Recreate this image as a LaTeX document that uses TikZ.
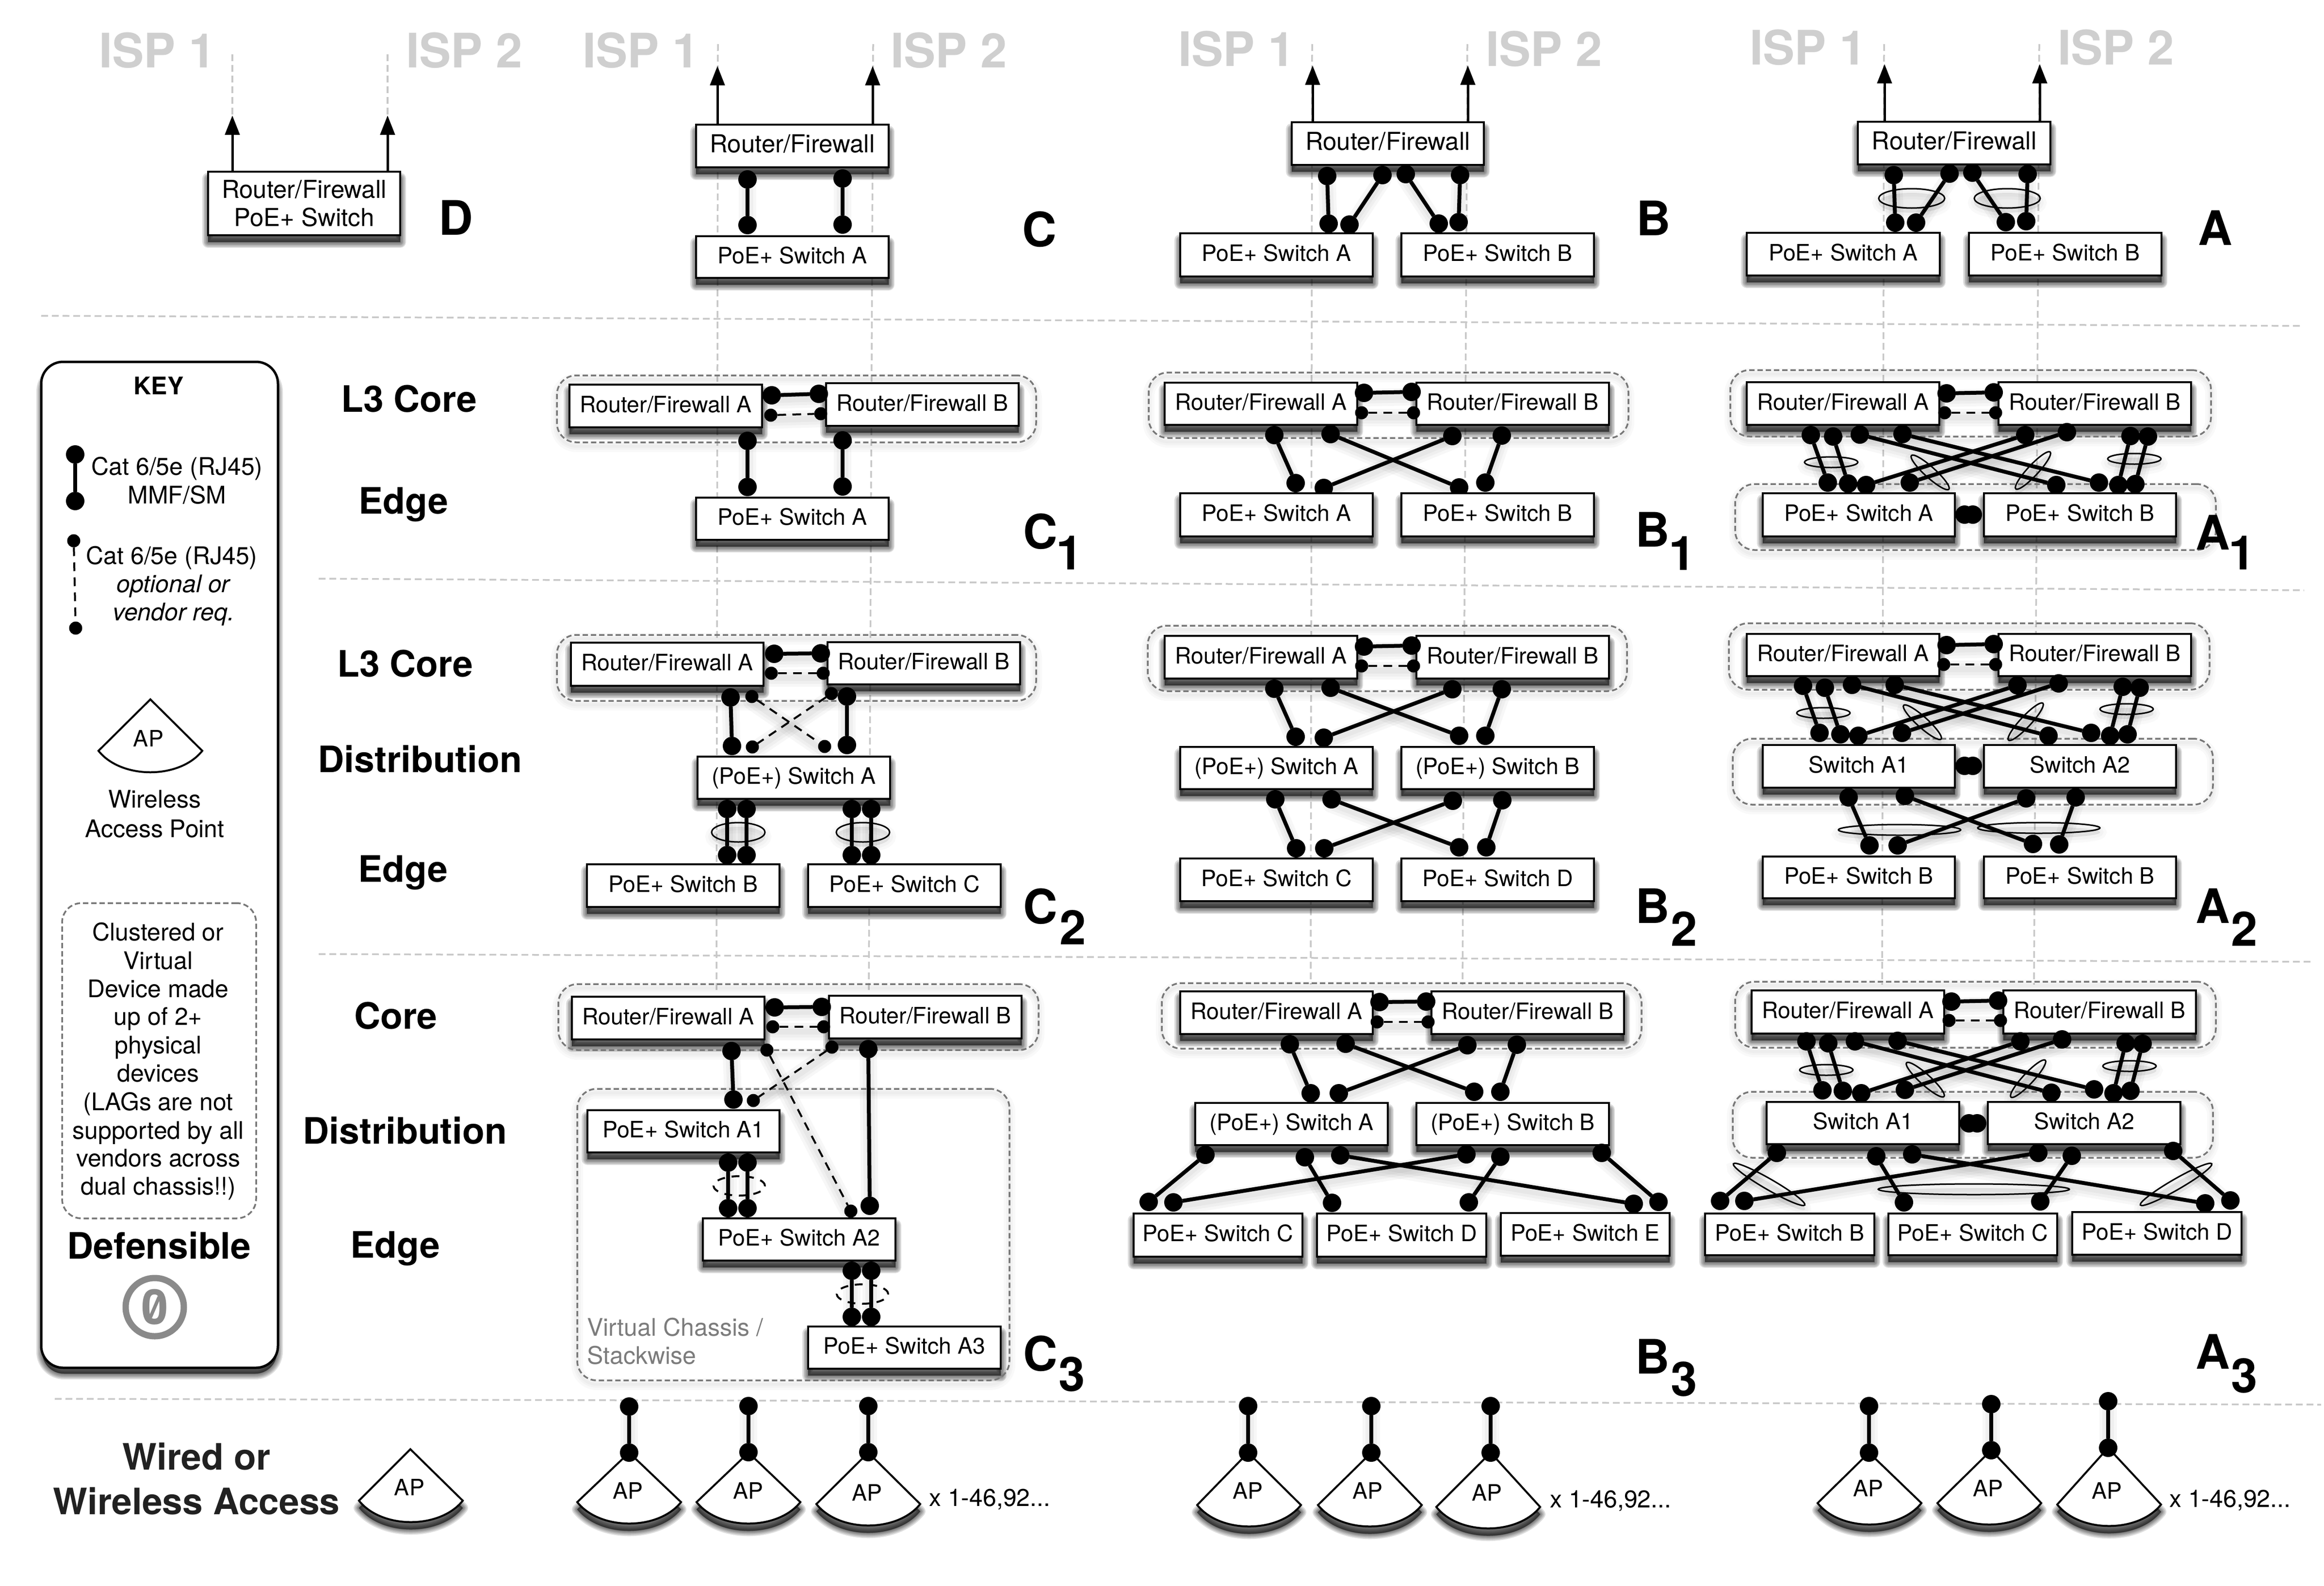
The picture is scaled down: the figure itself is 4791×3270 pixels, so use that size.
\documentclass[tikz,border=0pt]{standalone}
\usepackage{fontspec}
\setmainfont{TeX Gyre Heros}
\usetikzlibrary{shapes.geometric,arrows.meta,calc}
\pgfdeclarelayer{bg}\pgfdeclarelayer{shadow}\pgfdeclarelayer{mid}
\pgfsetlayers{bg,shadow,mid,main}
\definecolor{guidegrey}{HTML}{C8C8C8}
\definecolor{grpgrey}{HTML}{777777}
\definecolor{ispgrey}{HTML}{CFCFCF}
\definecolor{vcgrey}{HTML}{7C7C7C}
\definecolor{ccgrey}{HTML}{8A8A8A}
\newcommand\fnorm{\fontsize{46.5}{58.4}\selectfont}
\newcommand\fkey{\fontsize{50}{58.4}\selectfont}
\newcommand\ftop{\fontsize{51}{58.4}\selectfont}
\newcommand\fhead{\fontsize{75}{90}\selectfont\bfseries}
\newcommand\fbig{\fontsize{98}{110}\selectfont\bfseries}
\tikzset{
  guide/.style={draw=guidegrey,line width=3.5pt,dash pattern=on 14pt off 8pt},
  devbox/.style={draw=black,fill=white,line width=4pt,inner sep=0pt,outer sep=0pt,font=\fnorm,text height=26pt,text depth=0pt},
  devtwo/.style={draw=black,fill=white,line width=4pt,inner sep=0pt,outer sep=0pt,font=\ftop,align=center},
  softlayer/.style={draw=black,fill=black,opacity=.13,line join=round},
  grpbox/.style={draw=grpgrey,line width=3.5pt,dash pattern=on 11pt off 6pt,rounded corners=40pt,inner sep=0pt},
  bigdot/.style={circle,fill=black,inner sep=0pt,minimum size=38pt,outer sep=0pt},
  smalldot/.style={circle,fill=black,inner sep=0pt,minimum size=27pt,outer sep=0pt},
  solidlink/.style={draw=black,line width=8pt},
  dashlink/.style={draw=black,line width=4pt,dash pattern=on 18pt off 13pt},
  uplink/.style={draw=black,line width=5pt,-{Triangle[width=30pt,length=40pt]}},
  apline/.style={draw=black,fill=white,line width=4pt,line join=miter},
  lagring/.style={ellipse,draw=black,line width=3pt,inner sep=0pt,outer sep=0pt},
  lagdash/.style={ellipse,draw=black,line width=4pt,inner sep=0pt,outer sep=0pt,dash pattern=on 16pt off 14pt},
  normal/.style={font=\fnorm,inner sep=0pt,anchor=base},
  keytext/.style={font=\fkey,inner sep=0pt,anchor=base},
  heading/.style={font=\fhead,inner sep=0pt,anchor=base},
  biglabel/.style={font=\fbig,inner sep=0pt,anchor=base},
  isp/.style={font=\fbig,inner sep=0pt,anchor=base,text=ispgrey},
}
\newcount\objc
\newcommand\txt[5]{\node[#4] (#1) at (#2,#3) {#5};}
\newcommand\softrect[4]{\begin{pgfonlayer}{shadow}\foreach\w in {24,19,14,9,4,1}{\filldraw[softlayer,line width=\w pt,shift={(0,14)}] (#1+2,#2+2) rectangle (#3-2,#4-2);}\end{pgfonlayer}}
\newcommand\dev[6]{\softrect{#2}{#3}{#4}{#5}\node[devbox,minimum width={#4-#2-4},minimum height={#5-#3-4}] (#1) at ({(#2+#4)/2},{(#3+#5)/2}) {#6};}
\newcommand\devtop[6]{\softrect{#2}{#3}{#4}{#5}\node[devbox,font=\ftop,minimum width={#4-#2-4},minimum height={#5-#3-4}] (#1) at ({(#2+#4)/2},{(#3+#5)/2}) {#6};}
\newcommand\grp[5]{%
  \begin{pgfonlayer}{shadow}\foreach\w in {24,14,6}{\draw[black,opacity=.025,line width=\w pt,rounded corners=40pt,shift={(0,8)}] (#2,#3) rectangle (#4,#5);}\end{pgfonlayer}%
  \begin{pgfonlayer}{mid}\node[grpbox,minimum width={#4-#2},minimum height={#5-#3}] (#1) at ({(#2+#4)/2},{(#3+#5)/2}) {};\end{pgfonlayer}}
\newcommand\softline[4]{\begin{pgfonlayer}{shadow}\foreach\w in {36,24,12}{\draw[black,opacity=.03,line width=\w pt,line cap=round,shift={(0,10)}] (#1,#2) -- (#3,#4);}\end{pgfonlayer}}
\newcommand\wire[4]{\global\advance\objc by 1 \edef\wa{w\the\objc a}\edef\wb{w\the\objc b}%
  \softline{#1}{#2}{#3}{#4}%
  \node[bigdot] (\wa) at (#1,#2) {};\node[bigdot] (\wb) at (#3,#4) {};\draw[solidlink] (\wa) -- (\wb);}
\newcommand\optw[4]{\global\advance\objc by 1 \edef\wa{o\the\objc a}\edef\wb{o\the\objc b}%
  \softline{#1}{#2}{#3}{#4}%
  \node[smalldot] (\wa) at (#1,#2) {};\node[smalldot] (\wb) at (#3,#4) {};\draw[dashlink] (\wa) -- (\wb);}
\newcommand\lag[5]{\global\advance\objc by 1 \edef\wa{l\the\objc}%
  \begin{pgfonlayer}{shadow}\foreach\w in {26,14,2}{\node[ellipse,draw=black,fill=black,opacity=.022,line width=\w pt,rotate=#5,inner sep=0pt,minimum width={2*#3},minimum height={2*#4}] at (#1,#2+9) {};}\end{pgfonlayer}%
  \node[lagring,rotate=#5,minimum width={2*#3},minimum height={2*#4}] (\wa) at (#1,#2) {};}
\newcommand\lagd[4]{\global\advance\objc by 1 \edef\wa{l\the\objc}%
  \node[lagdash,minimum width={2*#3},minimum height={2*#4}] (\wa) at (#1,#2) {};}
\newcommand\apoutline[4]{(#1,#2) -- (#3+107,#4) .. controls (#3+60,#4+59) and (#3-60,#4+59) .. (#3-107,#4) -- cycle}
\newcommand\apsym[7]{\draw[apline] \apoutline{#2}{#3}{#4}{#5};\node[normal] (#1) at (#6,#7) {AP};}
\newcommand\apbox[7]{%
  \begin{pgfonlayer}{shadow}\foreach\w in {22,17,12,8,4,1}{\filldraw[softlayer,line width=\w pt,shift={(0,15)}] \apoutline{#2}{#3}{#4}{#5};}\end{pgfonlayer}%
  \apsym{#1}{#2}{#3}{#4}{#5}{#6}{#7}}
\begin{document}
\begin{tikzpicture}[x=1pt,y=-1pt]
\useasboundingbox (0,0) rectangle (4791,3270);
% ---------- guides
\begin{pgfonlayer}{bg}
\fill[white] (0,0) rectangle (4791,3270);
\coordinate (s1a) at (85,651);\coordinate (s1b) at (4743,672);
\coordinate (s2a) at (657,1193);\coordinate (s2b) at (4750,1217);
\coordinate (s3a) at (657,1967);\coordinate (s3b) at (4770,1983);
\coordinate (s4a) at (113,2884);\coordinate (s4b) at (4785,2896);
\draw[guide] (s1a) -- (s1b);\draw[guide] (s2a) -- (s2b);\draw[guide] (s3a) -- (s3b);\draw[guide] (s4a) -- (s4b);
\coordinate (gd1t) at (479,112);\coordinate (gd1b) at (479,238);
\coordinate (gd2t) at (799,112);\coordinate (gd2b) at (799,238);
\coordinate (gc1t) at (1480,91);\coordinate (gc1b) at (1477,2047);
\coordinate (gc2t) at (1800,91);\coordinate (gc2b) at (1791,2047);
\coordinate (gb1t) at (2705,91);\coordinate (gb1b) at (2702,2030);
\coordinate (gb2t) at (3025,91);\coordinate (gb2b) at (3015,2030);
\coordinate (ga1t) at (3884,91);\coordinate (ga1b) at (3880,2030);
\coordinate (ga2t) at (4204,91);\coordinate (ga2b) at (4193,2030);
\foreach \g in {gd1,gd2,gc1,gc2,gb1,gb2,ga1,ga2}{\draw[guide] (\g t) -- (\g b);}
\end{pgfonlayer}
% ---------- ISP headings
\txt{i1}{324}{140}{isp}{ISP 1}\txt{i2}{957}{140}{isp}{ISP 2}
\txt{i3}{1321}{140}{isp}{ISP 1}\txt{i4}{1956}{140}{isp}{ISP 2}
\txt{i5}{2549}{137}{isp}{ISP 1}\txt{i6}{3183}{137}{isp}{ISP 2}
\txt{i7}{3727}{134}{isp}{ISP 1}\txt{i8}{4362}{134}{isp}{ISP 2}
% ---------- D
\softrect{427}{352}{827}{487}
\node[devtwo,minimum width=396pt,minimum height=131pt] (dbox) at (627,419.5) {Router/Firewall\\PoE+ Switch};
\coordinate (tipd1) at (479,238);\coordinate (tipd2) at (799,238);
\draw[uplink] (tipd1 |- dbox.north) -- (tipd1);\draw[uplink] (tipd2 |- dbox.north) -- (tipd2);
\txt{ld}{940}{484}{biglabel}{D}
% ---------- C
\devtop{cr}{1433}{255}{1834}{347}{Router/Firewall}
\dev{cs}{1433}{485}{1834}{575}{PoE+ Switch A}
\coordinate (tipc1) at (1479,136);\coordinate (tipc2) at (1799,136);
\draw[uplink] (tipc1 |- cr.north) -- (tipc1);\draw[uplink] (tipc2 |- cr.north) -- (tipc2);
\wire{1541}{370}{1541}{464}\wire{1737}{368}{1737}{463}
\txt{lc}{2143}{508}{biglabel}{C}
% ---------- C1
\grp{gc1}{1148}{774}{2136}{912}
\dev{c1ra}{1172}{791}{1573}{883}{Router/Firewall A}
\dev{c1rb}{1701}{788}{2102}{880}{Router/Firewall B}
\wire{1591}{815}{1688}{812}\optw{1589}{856}{1692}{853}
\wire{1541}{909}{1541}{1004}\wire{1737}{908}{1737}{1003}
\dev{c1s}{1433}{1024}{1834}{1115}{PoE+ Switch A}
\txt{lc1}{2145}{1131}{biglabel}{C}\txt{lc1s}{2205}{1174}{biglabel}{1}
% ---------- C2
\grp{gc2}{1148}{1309}{2136}{1445}
\dev{c2ra}{1175}{1323}{1576}{1416}{Router/Firewall A}
\dev{c2rb}{1704}{1322}{2105}{1413}{Router/Firewall B}
\wire{1596}{1348}{1692}{1347}\optw{1590}{1388}{1697}{1388}
\wire{1506}{1438}{1509}{1538}\wire{1746}{1436}{1746}{1536}
\optw{1550}{1436}{1700}{1539}\optw{1714}{1430}{1551}{1540}
\dev{c2s}{1436}{1558}{1837}{1649}{(PoE+) Switch A}
\wire{1499}{1668}{1499}{1763}\wire{1539}{1668}{1539}{1763}
\wire{1756}{1668}{1756}{1763}\wire{1796}{1668}{1796}{1763}
\lag{1522}{1716}{55}{20}{0}\lag{1779}{1716}{55}{20}{0}
\dev{c2b}{1208}{1780}{1609}{1872}{PoE+ Switch B}
\dev{c2c}{1664}{1780}{2065}{1872}{PoE+ Switch C}
\txt{lc2}{2145}{1904}{biglabel}{C}\txt{lc2s}{2212}{1947}{biglabel}{2}
% ---------- C3
\grp{gc3}{1151}{2029}{2141}{2165}
\grp{gvc}{1190}{2245}{2081}{2846}
\dev{c3ra}{1177}{2053}{1578}{2145}{Router/Firewall A}
\dev{c3rb}{1707}{2051}{2108}{2143}{Router/Firewall B}
\wire{1597}{2077}{1694}{2076}\optw{1593}{2117}{1698}{2117}
\wire{1508}{2167}{1512}{2267}\wire{1790}{2163}{1793}{2486}
\optw{1581}{2165}{1754}{2497}\optw{1715}{2159}{1553}{2269}
\dev{c3a1}{1209}{2287}{1609}{2378}{PoE+ Switch A1}
\wire{1501}{2397}{1501}{2491}\wire{1541}{2397}{1541}{2491}
\lagd{1524}{2445}{53}{20}
\dev{c3a2}{1447}{2510}{1848}{2601}{PoE+ Switch A2}
\wire{1756}{2620}{1756}{2715}\wire{1796}{2620}{1796}{2715}
\lagd{1778}{2668}{53}{20}
\dev{c3a3}{1664}{2733}{2065}{2824}{PoE+ Switch A3}
\txt{vc1}{1210}{2754}{keytext,anchor=base west,text=vcgrey}{Virtual Chassis /}
\txt{vc2}{1210}{2812}{keytext,anchor=base west,text=vcgrey}{Stackwise}
\txt{lc3}{2145}{2826}{biglabel}{C}\txt{lc3s}{2210}{2868}{biglabel}{3}
% ---------- C APs
\apbox{apc1}{1297}{2995}{1297}{3097}{1294}{3090}\wire{1297}{2900}{1297}{2995}
\apbox{apc2}{1543}{2995}{1543}{3097}{1542}{3090}\wire{1543}{2899}{1543}{2994}
\apbox{apc3}{1790}{2995}{1790}{3101}{1787}{3094}\wire{1790}{2899}{1790}{2994}
\txt{xc}{1915}{3105}{keytext,anchor=base west}{x 1-46,92...}
% ---------- B
\devtop{br}{2661}{250}{3061}{342}{Router/Firewall}
\coordinate (tipb1) at (2706,135);\coordinate (tipb2) at (3026,135);
\draw[uplink] (tipb1 |- br.north) -- (tipb1);\draw[uplink] (tipb2 |- br.north) -- (tipb2);
\wire{2736}{363}{2739}{461}\wire{2850}{361}{2782}{463}\wire{2898}{359}{2966}{461}\wire{3010}{361}{3007}{458}
\dev{bsa}{2431}{479}{2832}{572}{PoE+ Switch A}
\dev{bsb}{2887}{479}{3288}{572}{PoE+ Switch B}
\txt{lb}{3409}{485}{biglabel}{B}
% ---------- B1
\grp{gb1}{2368}{768}{3357}{903}
\dev{b1ra}{2399}{787}{2800}{878}{Router/Firewall A}
\dev{b1rb}{2918}{787}{3319}{878}{Router/Firewall B}
\wire{2812}{810}{2910}{808}\optw{2807}{851}{2914}{851}
\wire{2627}{897}{2671}{996}\wire{2743}{895}{3008}{1005}\wire{2994}{899}{2729}{1006}\wire{3096}{898}{3062}{995}
\dev{b1sa}{2431}{1015}{2832}{1108}{PoE+ Switch A}
\dev{b1sb}{2887}{1015}{3288}{1108}{PoE+ Switch B}
\txt{lb1}{3407}{1127}{biglabel}{B}\txt{lb1s}{3468}{1175}{biglabel}{1}
% ---------- B2
\grp{gb2}{2366}{1290}{3354}{1425}
\dev{b2ra}{2399}{1309}{2800}{1401}{Router/Firewall A}
\dev{b2rb}{2918}{1309}{3319}{1401}{Router/Firewall B}
\wire{2812}{1333}{2910}{1331}\optw{2807}{1373}{2914}{1373}
\wire{2627}{1420}{2671}{1519}\wire{2743}{1418}{3008}{1517}\wire{2994}{1421}{2729}{1521}\wire{3096}{1421}{3062}{1517}
\dev{b2sa}{2431}{1538}{2832}{1629}{(PoE+) Switch A}
\dev{b2sb}{2887}{1538}{3288}{1629}{(PoE+) Switch B}
\wire{2629}{1648}{2672}{1749}\wire{2745}{1648}{3008}{1747}\wire{2995}{1651}{2730}{1749}\wire{3097}{1650}{3064}{1747}
\dev{b2sc}{2431}{1768}{2832}{1860}{PoE+ Switch C}
\dev{b2sd}{2887}{1768}{3288}{1860}{PoE+ Switch D}
\txt{lb2}{3407}{1903}{biglabel}{B}\txt{lb2s}{3472}{1950}{biglabel}{2}
% ---------- B3
\grp{gb3}{2395}{2027}{3384}{2162}
\dev{b3ra}{2431}{2042}{2832}{2134}{Router/Firewall A}
\dev{b3rb}{2949}{2042}{3350}{2134}{Router/Firewall B}
\wire{2844}{2066}{2940}{2065}\optw{2839}{2107}{2944}{2107}
\wire{2659}{2153}{2702}{2254}\wire{2774}{2152}{3039}{2251}\wire{3025}{2155}{2760}{2254}\wire{3127}{2154}{3093}{2251}
\dev{b3sa}{2462}{2272}{2863}{2363}{(PoE+) Switch A}
\dev{b3sb}{2918}{2272}{3319}{2363}{(PoE+) Switch B}
\wire{2485}{2381}{2368}{2478}\wire{2690}{2386}{2746}{2480}\wire{2763}{2382}{3368}{2482}
\wire{3023}{2380}{2419}{2479}\wire{3093}{2385}{3028}{2479}\wire{3302}{2377}{3419}{2478}
\dev{b3sc}{2335}{2500}{2687}{2593}{PoE+ Switch C}
\dev{b3sd}{2713}{2500}{3066}{2593}{PoE+ Switch D}
\dev{b3se}{3092}{2499}{3444}{2591}{PoE+ Switch E}
\txt{lb3}{3407}{2832}{biglabel}{B}\txt{lb3s}{3472}{2878}{biglabel}{3}
% ---------- B APs
\apbox{apb1}{2573}{2995}{2575}{3103}{2572}{3090}\wire{2573}{2899}{2573}{2995}
\apbox{apb2}{2827}{2995}{2824}{3103}{2819}{3090}\wire{2827}{2899}{2827}{2995}
\apbox{apb3}{3073}{2995}{3068}{3107}{3065}{3094}\wire{3073}{2899}{3073}{2995}
\txt{xb}{3195}{3108}{keytext,anchor=base west}{x 1-46,92...}
% ---------- A
\devtop{ar}{3828}{249}{4229}{341}{Router/Firewall}
\coordinate (tipa1) at (3885,132);\coordinate (tipa2) at (4205,132);
\draw[uplink] (tipa1 |- ar.north) -- (tipa1);\draw[uplink] (tipa2 |- ar.north) -- (tipa2);
\wire{3904}{361}{3907}{459}\wire{4019}{358}{3950}{459}\wire{4066}{356}{4135}{458}\wire{4180}{359}{4177}{456}
\lag{3941}{409}{68}{20}{0}\lag{4138}{409}{68}{20}{0}
\dev{asa}{3599}{478}{4001}{570}{PoE+ Switch A}
\dev{asb}{4057}{478}{4458}{570}{PoE+ Switch B}
\txt{la}{4567}{505}{biglabel}{A}
% ---------- A1
\grp{ga1a}{3567}{763}{4558}{900}
\grp{ga1b}{3577}{998}{4568}{1134}
\dev{a1ra}{3599}{786}{4000}{878}{Router/Firewall A}
\dev{a1rb}{4118}{786}{4519}{878}{Router/Firewall B}
\wire{4013}{811}{4110}{809}\optw{4009}{851}{4114}{851}
\wire{3733}{897}{3768}{995}\wire{3779}{900}{3810}{997}\wire{3834}{896}{4239}{1000}\wire{3922}{895}{4327}{995}
\wire{4175}{897}{3847}{1000}\wire{4261}{891}{3937}{995}\wire{4392}{899}{4367}{1000}\wire{4428}{900}{4402}{998}
\lag{3775}{953}{55}{11}{0}\lag{3979}{974}{52}{11}{-42}\lag{4191}{970}{52}{11}{47}\lag{4400}{946}{55}{11}{0}
\dev{a1sa}{3632}{1015}{4032}{1108}{PoE+ Switch A}
\dev{a1sb}{4088}{1015}{4488}{1108}{PoE+ Switch B}
\wire{4050}{1061}{4067}{1061}
\txt{la1}{4562}{1133}{biglabel}{A}\txt{la1s}{4622}{1174}{biglabel}{1}
% ---------- A2
\grp{ga2a}{3564}{1285}{4555}{1422}
\grp{ga2b}{3572}{1523}{4562}{1659}
\dev{a2ra}{3599}{1305}{4000}{1396}{Router/Firewall A}
\dev{a2rb}{4118}{1305}{4519}{1396}{Router/Firewall B}
\wire{4013}{1330}{4110}{1328}\optw{4007}{1370}{4114}{1370}
\wire{3717}{1414}{3751}{1511}\wire{3762}{1418}{3794}{1514}\wire{3818}{1412}{4223}{1517}\wire{3906}{1412}{4311}{1511}
\wire{4159}{1413}{3831}{1517}\wire{4244}{1409}{3921}{1511}\wire{4376}{1416}{4350}{1517}\wire{4411}{1418}{4386}{1514}
\lag{3759}{1470}{55}{11}{0}\lag{3963}{1489}{52}{11}{-42}\lag{4176}{1488}{52}{11}{47}\lag{4384}{1462}{55}{11}{0}
\dev{a2sa}{3632}{1534}{4032}{1626}{Switch A1}
\dev{a2sb}{4088}{1534}{4488}{1626}{Switch A2}
\wire{4050}{1579}{4067}{1579}
\wire{3811}{1644}{3854}{1743}\wire{3927}{1641}{4191}{1740}\wire{4177}{1646}{3912}{1743}\wire{4279}{1644}{4245}{1741}
\lag{3916}{1711}{126}{11}{0}\lag{4203}{1707}{126}{11}{0}
\dev{a2sc}{3632}{1764}{4032}{1854}{PoE+ Switch B}
\dev{a2sd}{4088}{1764}{4488}{1854}{PoE+ Switch B}
\txt{la2}{4562}{1903}{biglabel}{A}\txt{la2s}{4627}{1950}{biglabel}{2}
% ---------- A3
\grp{ga3a}{3577}{2024}{4568}{2160}
\grp{ga3b}{3572}{2251}{4562}{2387}
\dev{a3ra}{3609}{2040}{4010}{2133}{Router/Firewall A}
\dev{a3rb}{4128}{2040}{4529}{2133}{Router/Firewall B}
\wire{4023}{2065}{4119}{2063}\optw{4018}{2104}{4124}{2104}
\wire{3724}{2147}{3757}{2248}\wire{3769}{2151}{3799}{2249}\wire{3824}{2147}{4229}{2253}\wire{3912}{2146}{4317}{2246}
\wire{4165}{2147}{3837}{2254}\wire{4251}{2143}{3927}{2247}\wire{4382}{2151}{4357}{2254}\wire{4417}{2152}{4392}{2249}
\lag{3765}{2206}{55}{11}{0}\lag{3969}{2226}{52}{11}{-42}\lag{4181}{2224}{52}{11}{47}\lag{4390}{2198}{55}{11}{0}
\dev{a3sa}{3640}{2270}{4041}{2361}{Switch A1}
\dev{a3sb}{4096}{2270}{4497}{2361}{Switch A2}
\wire{4059}{2316}{4076}{2316}
\wire{3663}{2377}{3546}{2476}\wire{3868}{2384}{3925}{2479}\wire{3942}{2380}{4546}{2481}
\wire{4202}{2377}{3596}{2476}\wire{4271}{2383}{4206}{2477}\wire{4480}{2373}{4598}{2475}
\lag{3647}{2442}{85}{11}{-30}\lag{4069}{2452}{197}{11}{0}\lag{4486}{2442}{85}{11}{30}
\dev{a3sc}{3513}{2500}{3866}{2590}{PoE+ Switch B}
\dev{a3sd}{3891}{2500}{4243}{2590}{PoE+ Switch C}
\dev{a3se}{4270}{2497}{4623}{2589}{PoE+ Switch D}
\txt{la3}{4562}{2822}{biglabel}{A}\txt{la3s}{4627}{2871}{biglabel}{3}
% ---------- A APs
\apbox{apa1}{3853}{2995}{3854}{3099}{3851}{3085}\wire{3853}{2899}{3853}{2995}
\apbox{apa2}{4105}{2990}{4101}{3099}{4098}{3085}\wire{4105}{2895}{4105}{2990}
\apbox{apa3}{4346}{2985}{4348}{3102}{4343}{3090}\wire{4346}{2889}{4346}{2985}
\txt{xa}{4472}{3107}{keytext,anchor=base west}{x 1-46,92...}
% ---------- row headings
\txt{h1}{843}{849}{heading}{L3 Core}\txt{h2}{832}{1059}{heading}{Edge}
\txt{h3}{835}{1395}{heading}{L3 Core}\txt{h4}{866}{1592}{heading}{Distribution}\txt{h5}{831}{1818}{heading}{Edge}
\txt{h6}{816}{2121}{heading}{Core}\txt{h7}{835}{2358}{heading}{Distribution}\txt{h8}{815}{2593}{heading}{Edge}
\txt{h9}{405}{3030}{heading,text=black!87}{Wired or}\txt{h10}{405}{3122}{heading,text=black!87}{Wireless Access}
\apbox{apleg}{846}{2988}{847}{3094}{844}{3083}
% ---------- key
\begin{pgfonlayer}{shadow}\foreach\w in {24,19,14,9,4,1}{\filldraw[softlayer,line width=\w pt,rounded corners=45pt,shift={(0,14)}] (87,748) rectangle (571,2818);}\end{pgfonlayer}
\node[draw=black,fill=white,line width=5pt,rounded corners=45pt,minimum width=488pt,minimum height=2074pt,inner sep=0pt] (key) at (329,1783) {};
\txt{k0}{327}{813}{keytext,font=\fkey\bfseries}{KEY}
\wire{155}{937}{155}{1033}
\txt{k1}{365}{979}{keytext}{Cat 6/5e (RJ45)}\txt{k2}{365}{1038}{keytext}{MMF/SM}
\optw{152}{1115}{156}{1295}
\txt{k3}{354}{1163}{keytext}{Cat 6/5e (RJ45)}\txt{k4}{357}{1221}{keytext,font=\fkey\itshape}{optional or}\txt{k5}{358}{1279}{keytext,font=\fkey\itshape}{vendor req.}
\apsym{apkey}{310}{1442}{310}{1548}{306}{1539}
\txt{k6}{319}{1665}{keytext}{Wireless}\txt{k7}{319}{1726}{keytext}{Access Point}
\node[grpbox,fill=white,minimum width=400pt,minimum height=650pt] (kgrp) at (328,2187) {};
\txt{k8}{326}{1939}{keytext}{Clustered or}\txt{k9}{326}{1998}{keytext}{Virtual}\txt{k10}{326}{2056}{keytext}{Device made}
\txt{k11}{326}{2113}{keytext}{up of 2+}\txt{k12}{326}{2172}{keytext}{physical}\txt{k13}{326}{2230}{keytext}{devices}
\txt{k14}{326}{2289}{keytext}{(LAGs are not}\txt{k15}{326}{2348}{keytext}{supported by all}\txt{k16}{326}{2405}{keytext}{vendors across}\txt{k17}{326}{2463}{keytext}{dual chassis!!)}
\txt{k18}{328}{2595}{heading}{Defensible}
\node[circle,draw=ccgrey,line width=13pt,minimum size=120pt,inner sep=0pt] (cc) at (319,2695) {};
\node[font=\fontsize{100}{100}\selectfont\bfseries,text=ccgrey,inner sep=0pt] (cczero) at (319,2695) {0};
\coordinate (ccs1) at (310,2716);\coordinate (ccs2) at (328,2674);
\draw[ccgrey,line width=7pt] (ccs1) -- (ccs2);
\end{tikzpicture}
\end{document}
